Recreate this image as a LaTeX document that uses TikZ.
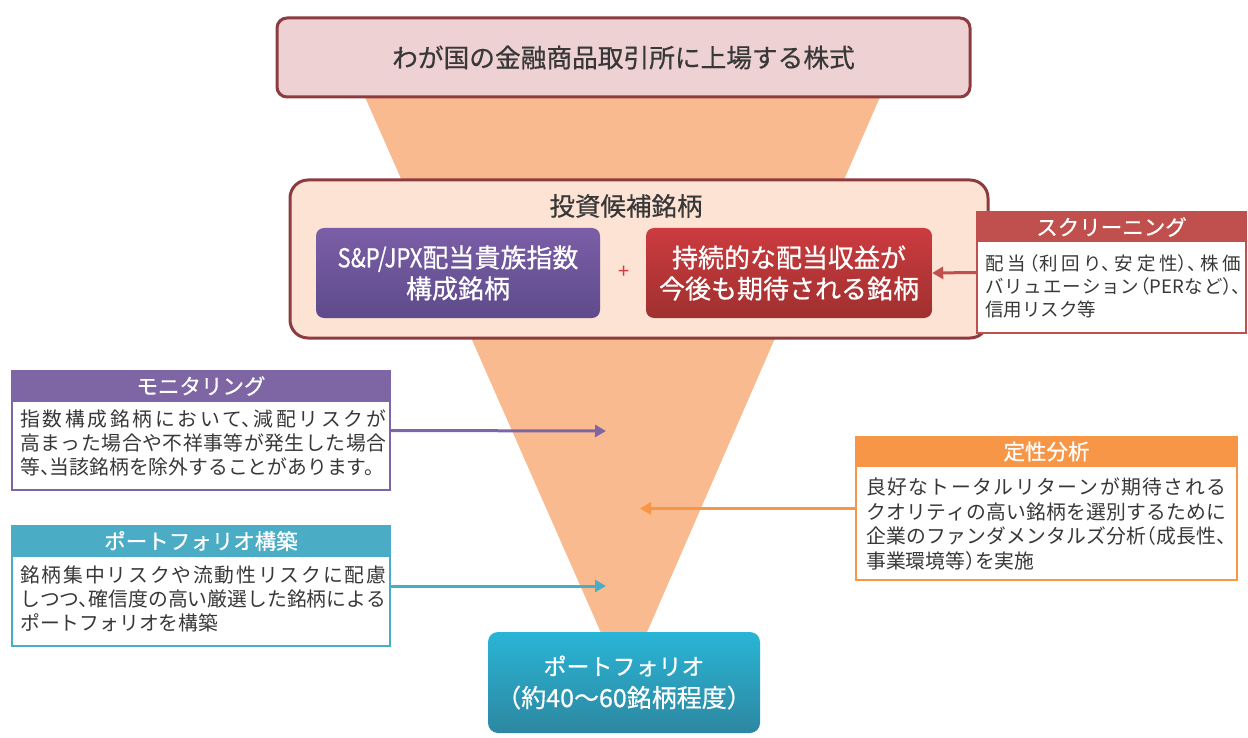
\documentclass[tikz,border=0pt]{standalone}
\usepackage{fontspec}
\usepackage{graphicx}
\setmainfont{Noto Sans CJK JP}
\newfontfamily\jpbody[RawFeature=+halt]{Noto Sans CJK JP}
\newfontfamily\jpmed[FakeBold=0.6]{Noto Sans CJK JP}
\XeTeXlinebreaklocale "ja"
\XeTeXlinebreakskip=0pt plus 2.5pt
\usetikzlibrary{arrows.meta}
\definecolor{funnel}{HTML}{F9BA8F}
\definecolor{topfill}{HTML}{EDD1D3}
\definecolor{darkred}{HTML}{8E3B40}
\definecolor{midfill}{HTML}{FCE3D3}
\definecolor{purpA}{HTML}{7B5EA7}
\definecolor{purpB}{HTML}{5E4B8B}
\definecolor{redA}{HTML}{CC3B3F}
\definecolor{redB}{HTML}{A0302F}
\definecolor{plusred}{HTML}{D9363E}
\definecolor{scrred}{HTML}{C0504D}
\definecolor{monpurp}{HTML}{7D66A3}
\definecolor{qorange}{HTML}{F79646}
\definecolor{pteal}{HTML}{4BACC6}
\definecolor{portA}{HTML}{29B5D6}
\definecolor{portB}{HTML}{2D87A0}
\definecolor{bodytext}{HTML}{383838}
\begin{document}
\begin{tikzpicture}[x=1pt,y=-1pt,
  bigbox/.style={draw=darkred,line width=3pt,rounded corners=10pt,inner sep=0pt},
  inbox/.style={rounded corners=8pt,inner sep=0pt,text=white,align=center,
    font=\jpmed\fontsize{26}{31}\selectfont,minimum width=284pt,minimum height=90pt},
  infobox/.style={draw=#1,line width=2pt,fill=white,inner sep=0pt},
  hdrtext/.style={text=white,inner sep=0pt,font=\jpmed\fontsize{21.5}{25}\selectfont},
  bodytxt/.style={text=bodytext,inner sep=0pt,align=justify,anchor=north west,text width=#1},
  conn/.style={draw=#1,line width=3pt,-{Triangle[length=11pt,width=12pt]}}
]
\useasboundingbox (0,0) rectangle (1248,738);
% funnel
\fill[funnel] (365,97) -- (880,97) -- (624,685) -- cycle;
% top box
\node[bigbox,fill=topfill,minimum width=693pt,minimum height=79pt,
  text=bodytext,font=\jpmed\fontsize{25.7}{30}\selectfont] (top) at (623.5,57.5)
  {わが国の金融商品取引所に上場する株式};
% middle box
\node[bigbox,fill=midfill,rounded corners=18pt,minimum width=698pt,minimum height=158pt] (mid) at (639,259) {};
\node[text=bodytext,inner sep=0pt,font=\jpmed\fontsize{25.5}{30}\selectfont] (midtitle) at (626,206) {投資候補銘柄};
\node[inbox,top color=purpA,bottom color=purpB] (purp) at (458,273) {\scalebox{0.85}[1]{S\&P/JPX}配当貴族指数\\構成銘柄};
\node[inbox,top color=redA,bottom color=redB,minimum width=286pt] (redb) at (789,273) {持続的な配当収益が\\今後も期待される銘柄};
\node[text=plusred,inner sep=0pt,font=\fontsize{20}{24}\selectfont] (plus) at (624,272) {+};
% screening
\node[infobox=scrred,minimum width=269pt,minimum height=121pt] (scr) at (1111.5,272.5) {};
\fill[scrred] (scr.north west) rectangle ([yshift=-31pt]scr.north east);
\node[hdrtext] (scrh) at ([yshift=-16pt]scr.north) {スクリーニング};
\node[bodytxt=256pt,font=\jpbody\fontsize{18.5}{23}\selectfont] (scrt) at (985,254)
  {配当（利回り、安定性）、株価\linebreak バリュエーション（PERなど）、\linebreak 信用リスク等};
\draw[conn=scrred] (scr.west) -- (redb.east);
% monitoring
\node[infobox=monpurp,minimum width=378pt,minimum height=119pt] (mon) at (201,430.5) {};
\fill[monpurp] (mon.north west) rectangle ([yshift=-32pt]mon.north east);
\node[hdrtext] (monh) at ([yshift=-16pt]mon.north) {モニタリング};
\node[bodytxt=366pt,font=\jpbody\fontsize{19.8}{24}\selectfont] (mont) at (20,410)
  {指数構成銘柄において、減配リスクが\linebreak 高まった場合や不祥事等が発生した場合\linebreak 等、当該銘柄を除外することがあります。};
\coordinate (monend) at (606,431);
\draw[conn=monpurp] (mon.east) -- (monend);
% qualitative
\node[infobox=qorange,minimum width=381pt,minimum height=143pt] (qual) at (1046.5,508.5) {};
\fill[qorange] (qual.north west) rectangle ([yshift=-31pt]qual.north east);
\node[hdrtext] (qualh) at ([yshift=-15.5pt]qual.north) {定性分析};
\node[bodytxt=360pt,font=\jpbody\fontsize{19.8}{24.5}\selectfont] (qualt) at (866,478)
  {良好なトータルリターンが期待される\linebreak クオリティの高い銘柄を選別するために\linebreak 企業のファンダメンタルズ分析（成長性、\linebreak 事業環境等）を実施};
\coordinate (qualend) at (640,508.5);
\draw[conn=qorange] (qual.west) -- (qualend);
% portfolio construction
\node[infobox=pteal,minimum width=378pt,minimum height=120pt] (cons) at (201,586) {};
\fill[pteal] (cons.north west) rectangle ([yshift=-32pt]cons.north east);
\node[hdrtext] (consh) at ([yshift=-16pt]cons.north) {ポートフォリオ構築};
\node[bodytxt=366pt,font=\jpbody\fontsize{19.8}{24}\selectfont] (const) at (20,566)
  {銘柄集中リスクや流動性リスクに配慮\linebreak しつつ、確信度の高い厳選した銘柄による\linebreak ポートフォリオを構築};
\coordinate (consend) at (606,586);
\draw[conn=pteal] (cons.east) -- (consend);
% portfolio
\node[rounded corners=10pt,top color=portA,bottom color=portB,inner sep=0pt,
  minimum width=272pt,minimum height=101pt,text=white,align=center,
  font=\jpmed\fontsize{23}{32}\selectfont] (port) at (624,682.5)
  {ポートフォリオ\\{\fontsize{25}{32}\selectfont（約40～60銘柄程度）}};
\end{tikzpicture}
\end{document}
